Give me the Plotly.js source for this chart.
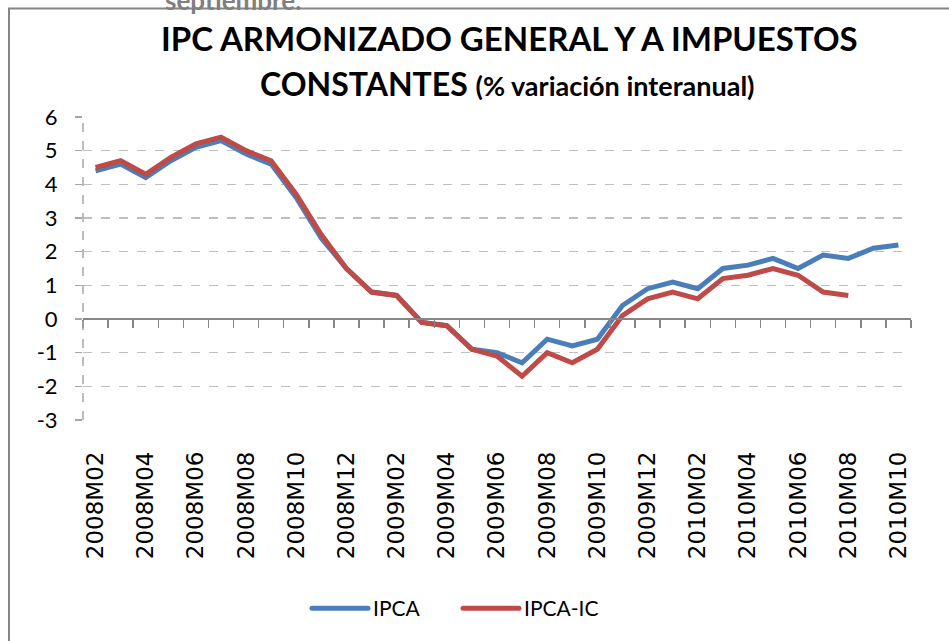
<!DOCTYPE html>
<html>
<head>
<meta charset="utf-8">
<script src="https://cdn.plot.ly/plotly-3.0.1.min.js"></script>
<style>html,body{margin:0;padding:0;background:#fff;}#chart{width:949px;height:641px;}</style>
</head>
<body>
<div id="chart"></div>
<script>
const months = ["2008M02","2008M03","2008M04","2008M05","2008M06","2008M07","2008M08","2008M09","2008M10","2008M11","2008M12",
"2009M01","2009M02","2009M03","2009M04","2009M05","2009M06","2009M07","2009M08","2009M09","2009M10","2009M11","2009M12",
"2010M01","2010M02","2010M03","2010M04","2010M05","2010M06","2010M07","2010M08","2010M09","2010M10"];
const ipca = [4.4,4.6,4.2,4.7,5.1,5.3,4.9,4.6,3.6,2.4,1.5,0.8,0.7,-0.1,-0.2,-0.9,-1.0,-1.3,-0.6,-0.8,-0.6,0.4,0.9,1.1,0.9,1.5,1.6,1.8,1.5,1.9,1.8,2.1,2.2];
const ipcaIC = [4.5,4.7,4.3,4.8,5.2,5.4,5.0,4.7,3.7,2.5,1.5,0.8,0.7,-0.1,-0.2,-0.9,-1.1,-1.7,-1.0,-1.3,-0.9,0.1,0.6,0.8,0.6,1.2,1.3,1.5,1.3,0.8,0.7,null,null];
const seriesNames = ["IPCA","IPCA-IC"];
const tickLabels = months.filter((m,i)=>i%2===0);
const yTicks = [-3,-2,-1,0,1,2,3,4,5,6];
const yTickText = yTicks.map(v=>String(v));
const titleLine1 = "IPC ARMONIZADO GENERAL Y A IMPUESTOS";
const titleLine2a = "CONSTANTES";
const titleLine2b = "(% variación interanual)";
const topCutText = "septiembre.";

const boundaries = months.map((m,i)=>i-0.5).concat([months.length-0.5]);

const traces = [
  {x: months, y: ipca, name: seriesNames[0], type:'scatter', mode:'lines',
   line:{color:'#4a7ebb', width:5}, connectgaps:false, hoverinfo:'x+y'},
  {x: months, y: ipcaIC, name: seriesNames[1], type:'scatter', mode:'lines',
   line:{color:'#be4b48', width:5}, connectgaps:false, hoverinfo:'x+y'},
  {x: [], y: [], xaxis:'x2', yaxis:'y', showlegend:false, hoverinfo:'skip', type:'scatter', mode:'lines'}
];

const L=83, R=38, T=117, B=214, W=949, H=641;
const pw = W-L-R, ph = H-T-B;
const px = v => (v-L)/pw;
const py = v => (H-B-v)/ph;

const layout = {
  width: W, height: H,
  margin: {l:L, r:R, t:T, b:B, pad:0},
  paper_bgcolor:'#ffffff', plot_bgcolor:'#ffffff',
  font: {family:'Lato, "Open Sans", sans-serif', color:'#000'},
  xaxis: {
    type:'category', range:[-0.5, months.length-0.5],
    tickmode:'array', tickvals: tickLabels, ticktext: tickLabels,
    tickangle:-90, ticks:'', showline:false, showgrid:false, zeroline:false,
    tickfont:{family:'"DejaVu Sans", sans-serif', size:23, color:'#000'},
    ticklabelstandoff: 26
  },
  xaxis2: {
    overlaying:'x', anchor:'free', position: 1/3,
    type:'linear', range:[-0.5, months.length-0.5],
    tickmode:'array', tickvals: boundaries, showticklabels:false,
    ticks:'outside', ticklen:8, tickwidth:1.5, tickcolor:'#868686',
    showline:true, linecolor:'#868686', linewidth:2,
    showgrid:false, zeroline:false
  },
  yaxis: {
    range:[-3, 6], tickmode:'array', tickvals: yTicks, ticktext: yTickText,
    ticks:'outside', ticklen:7, tickwidth:1.5, tickcolor:'#a6a6a6',
    showline:false, zeroline:false,
    showgrid:true, gridcolor:'#bfbfbf', gridwidth:1.5, griddash:'dash',
    tickfont:{family:'Lato, sans-serif', size:22, color:'#000'},
    ticklabelstandoff: 13
  },
  showlegend:true,
  legend: {
    orientation:'h', x: px(333), xanchor:'left', y: py(620), yanchor:'middle',
    font:{family:'Lato, sans-serif', size:21, color:'#000'},
    bgcolor:'rgba(0,0,0,0)', entrywidth:106, entrywidthmode:'pixels', traceorder:'normal'
  },
  shapes: [
    {type:'line', xref:'paper', yref:'paper', x0:0, x1:0, y0:0, y1:1,
     line:{color:'#a6a6a6', width:1.5, dash:'dash'}, layer:'above'},
    {type:'rect', xref:'paper', yref:'paper', x0:px(9), x1:px(1000), y0:py(700), y1:py(6),
     line:{color:'#868686', width:2}, fillcolor:'rgba(0,0,0,0)', layer:'below'}
  ],
  annotations: [
    {text: titleLine1, xref:'paper', yref:'paper', x:px(510), xanchor:'center',
     y:py(36), yanchor:'middle', showarrow:false,
     font:{family:'Lato, sans-serif', size:33, color:'#000', weight:'bold'}},
    {text: titleLine2a + ' <span style="font-size:27px">' + titleLine2b + '</span>',
     xref:'paper', yref:'paper', x:px(507), xanchor:'center',
     y:py(83), yanchor:'middle', showarrow:false,
     font:{family:'Lato, sans-serif', size:32, color:'#000', weight:'bold'}},
    {text: topCutText, xref:'paper', yref:'paper', x:px(163), xanchor:'left',
     y:py(16), yanchor:'bottom', showarrow:false,
     font:{family:'Lato, sans-serif', size:26, color:'#7f7f7f', weight:'bold'}}
  ]
};

function fixLegend(){
  document.querySelectorAll('#chart .legend [clip-path]').forEach(function(e){
    e.removeAttribute('clip-path');
  });
  document.querySelectorAll('#chart .legendlines path').forEach(function(p){
    p.setAttribute('d','M-21,0h56');
    p.style.strokeLinecap = 'round';
  });
}
Plotly.newPlot('chart', traces, layout, {displayModeBar:false, staticPlot:true}).then(function(gd){
  fixLegend();
  gd.on('plotly_afterplot', fixLegend);
  setTimeout(fixLegend, 0);
  setTimeout(fixLegend, 200);
});
</script>
</body>
</html>
